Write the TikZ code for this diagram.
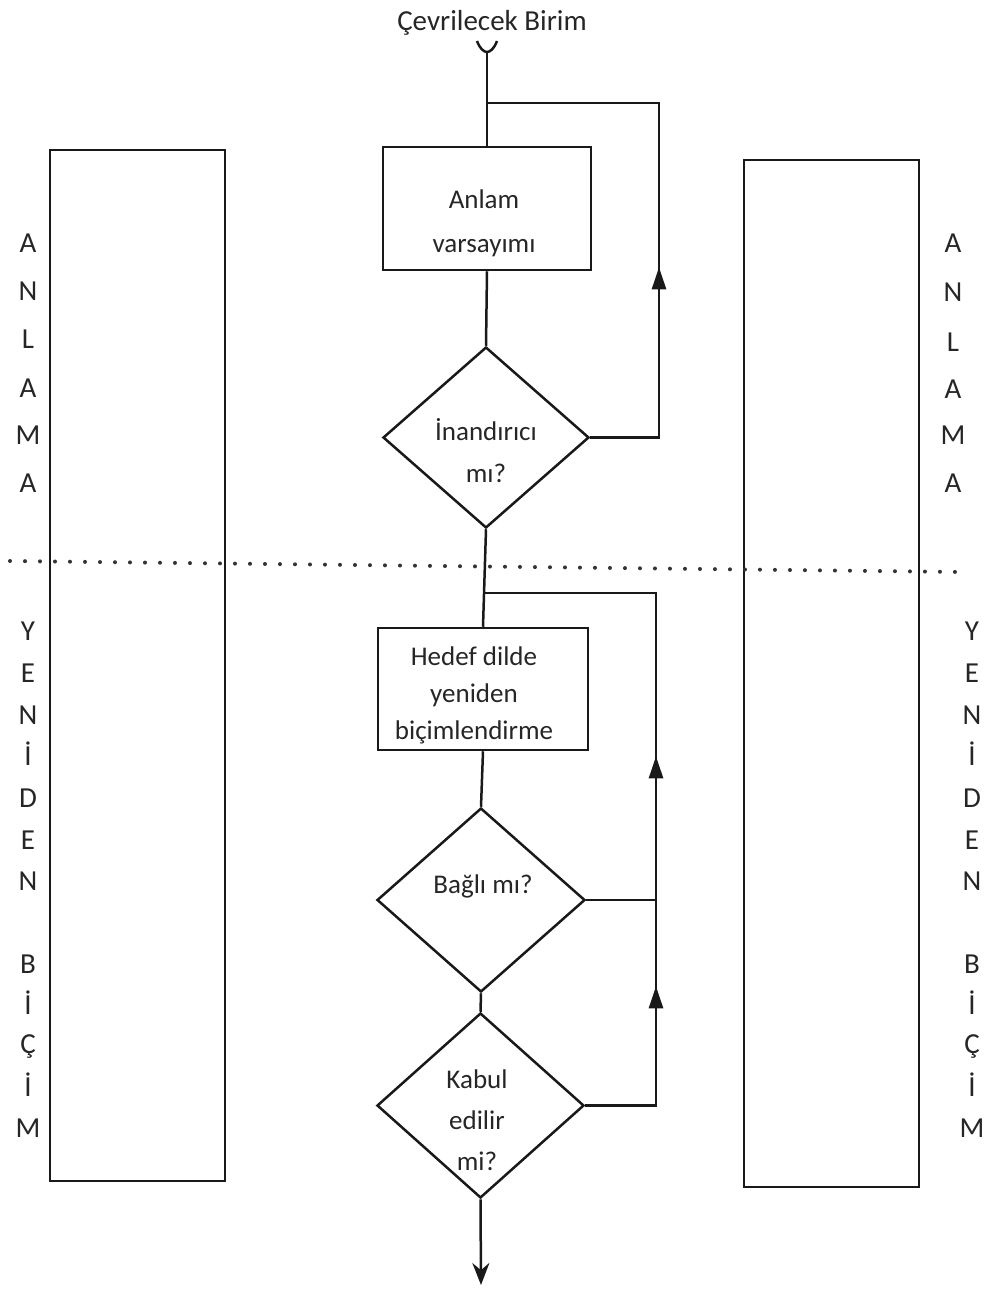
\documentclass[tikz,border=0pt]{standalone}
\usepackage{fontspec}
\setmainfont{Carlito}
\usetikzlibrary{shapes.geometric,arrows.meta,decorations.markings}
\begin{document}
\begin{tikzpicture}[x=1pt,y=-1pt,
  line/.style={line width=2.5pt,draw=black!90},
  procbox/.style={draw=black!90,line width=2.5pt,rectangle,inner sep=0pt},
  decision/.style={draw=black!90,line width=2.5pt,diamond,inner sep=0pt,aspect=1},
  panel/.style={draw=black!90,line width=2.8pt,rectangle,inner sep=0pt},
  boxtext/.style={align=center,anchor=base,inner sep=0pt,text=black!85,font=\fontsize{27}{#1}\selectfont},
  sidetext/.style={anchor=base,inner sep=0pt,text=black!85,font=\fontsize{29}{30}\selectfont},
  uptip/.tip={Triangle[length=22pt,width=14pt]},
]
\useasboundingbox (0,0) rectangle (997,1293);

% side panels
\node[panel,minimum width=175pt,minimum height=1031pt] (lp) at (137.5,665.5) {};
\node[panel,minimum width=175pt,minimum height=1027pt] (rp) at (831.5,673.5) {};

% title
\node[anchor=base,inner sep=0pt,text=black!85,font=\fontsize{29}{30}\selectfont] (title) at (492,30) {Çevrilecek Birim};

% boxes and decisions
\node[procbox,minimum width=208pt,minimum height=123pt] (b1) at (487,208.5) {};
\node[boxtext=44] (b1t) at (484,252) {Anlam\\varsayımı};
\node[decision,minimum width=206pt,minimum height=181pt] (d1) at (486,437.5) {};
\node[boxtext=42] (d1t) at (486,482) {İnandırıcı\\mı?};
\node[procbox,minimum width=210pt,minimum height=122pt] (b2) at (483,689) {};
\node[boxtext=37] (b2t) at (474,739) {Hedef dilde\\yeniden\\biçimlendirme};
\node[decision,minimum width=208pt,minimum height=184pt] (d2) at (481,900) {};
\node[boxtext=40] (d2t) at (483,893) {Bağlı mı?};
\node[decision,minimum width=207pt,minimum height=185pt] (d3) at (480.5,1105.5) {};
\node[boxtext=41] (d3t) at (477,1170) {Kabul\\edilir\\mi?};

% coordinates
\coordinate (cup) at (487,52);
\coordinate (j1) at (487,103);
\coordinate (r1) at (659,103);
\coordinate (j2) at (485,593);
\coordinate (r2) at (656,593);
\coordinate (c2) at (656,900);
\coordinate (out) at (481,1285);
\coordinate (dotL) at (10,561);
\coordinate (dotR) at (962,572);

% entry
\draw[line] (477,41) .. controls (480,49) and (484,52) .. (cup) .. controls (490,52) and (494,49) .. (497,41);
\draw[line] (cup) -- (b1.north);
\draw[line] (b1.south) -- (d1.north);
\draw[line] (d1.south) -- (b2.north);
\draw[line] (b2.south) -- (d2.north);
\draw[line] (d2.south) -- (d3.north);
\draw[line,-{Stealth[length=22pt,width=17pt]}] (d3.south) -- (out);

% feedback loops
\draw[line,postaction={decorate},decoration={markings,mark=at position 239pt with {\arrow{uptip}}}]
  (d1.east) -| (r1) -- (j1);
\draw[line,postaction={decorate},decoration={markings,
   mark=at position 190pt with {\arrow{uptip}},
   mark=at position 420pt with {\arrow{uptip}}}]
  (d3.east) -| (r2) -- (j2);
\draw[line] (d2.east) -- (c2);

% dotted separator
\draw[line width=4pt,black!80,line cap=round,dash pattern=on 0pt off 15pt] (dotL) -- (dotR);

% side letters
\foreach \l/\y [count=\i] in {A/252,N/300,L/348,A/397,M/444,A/492,
   Y/640,E/682,N/724,İ/765,D/807,E/849,N/890,B/973,İ/1014,Ç/1053,İ/1096,M/1137}
  \node[sidetext] (lt\i) at (28,\y) {\l};
\foreach \l/\y [count=\i] in {A/252,N/301,L/351,A/398,M/444,A/492}
  \node[sidetext] (ra\i) at (953,\y) {\l};
\foreach \l/\y [count=\i] in {Y/640,E/682,N/724,İ/765,D/807,E/849,N/890,B/973,İ/1014,Ç/1053,İ/1096,M/1137}
  \node[sidetext] (ry\i) at (972,\y) {\l};
\end{tikzpicture}
\end{document}
